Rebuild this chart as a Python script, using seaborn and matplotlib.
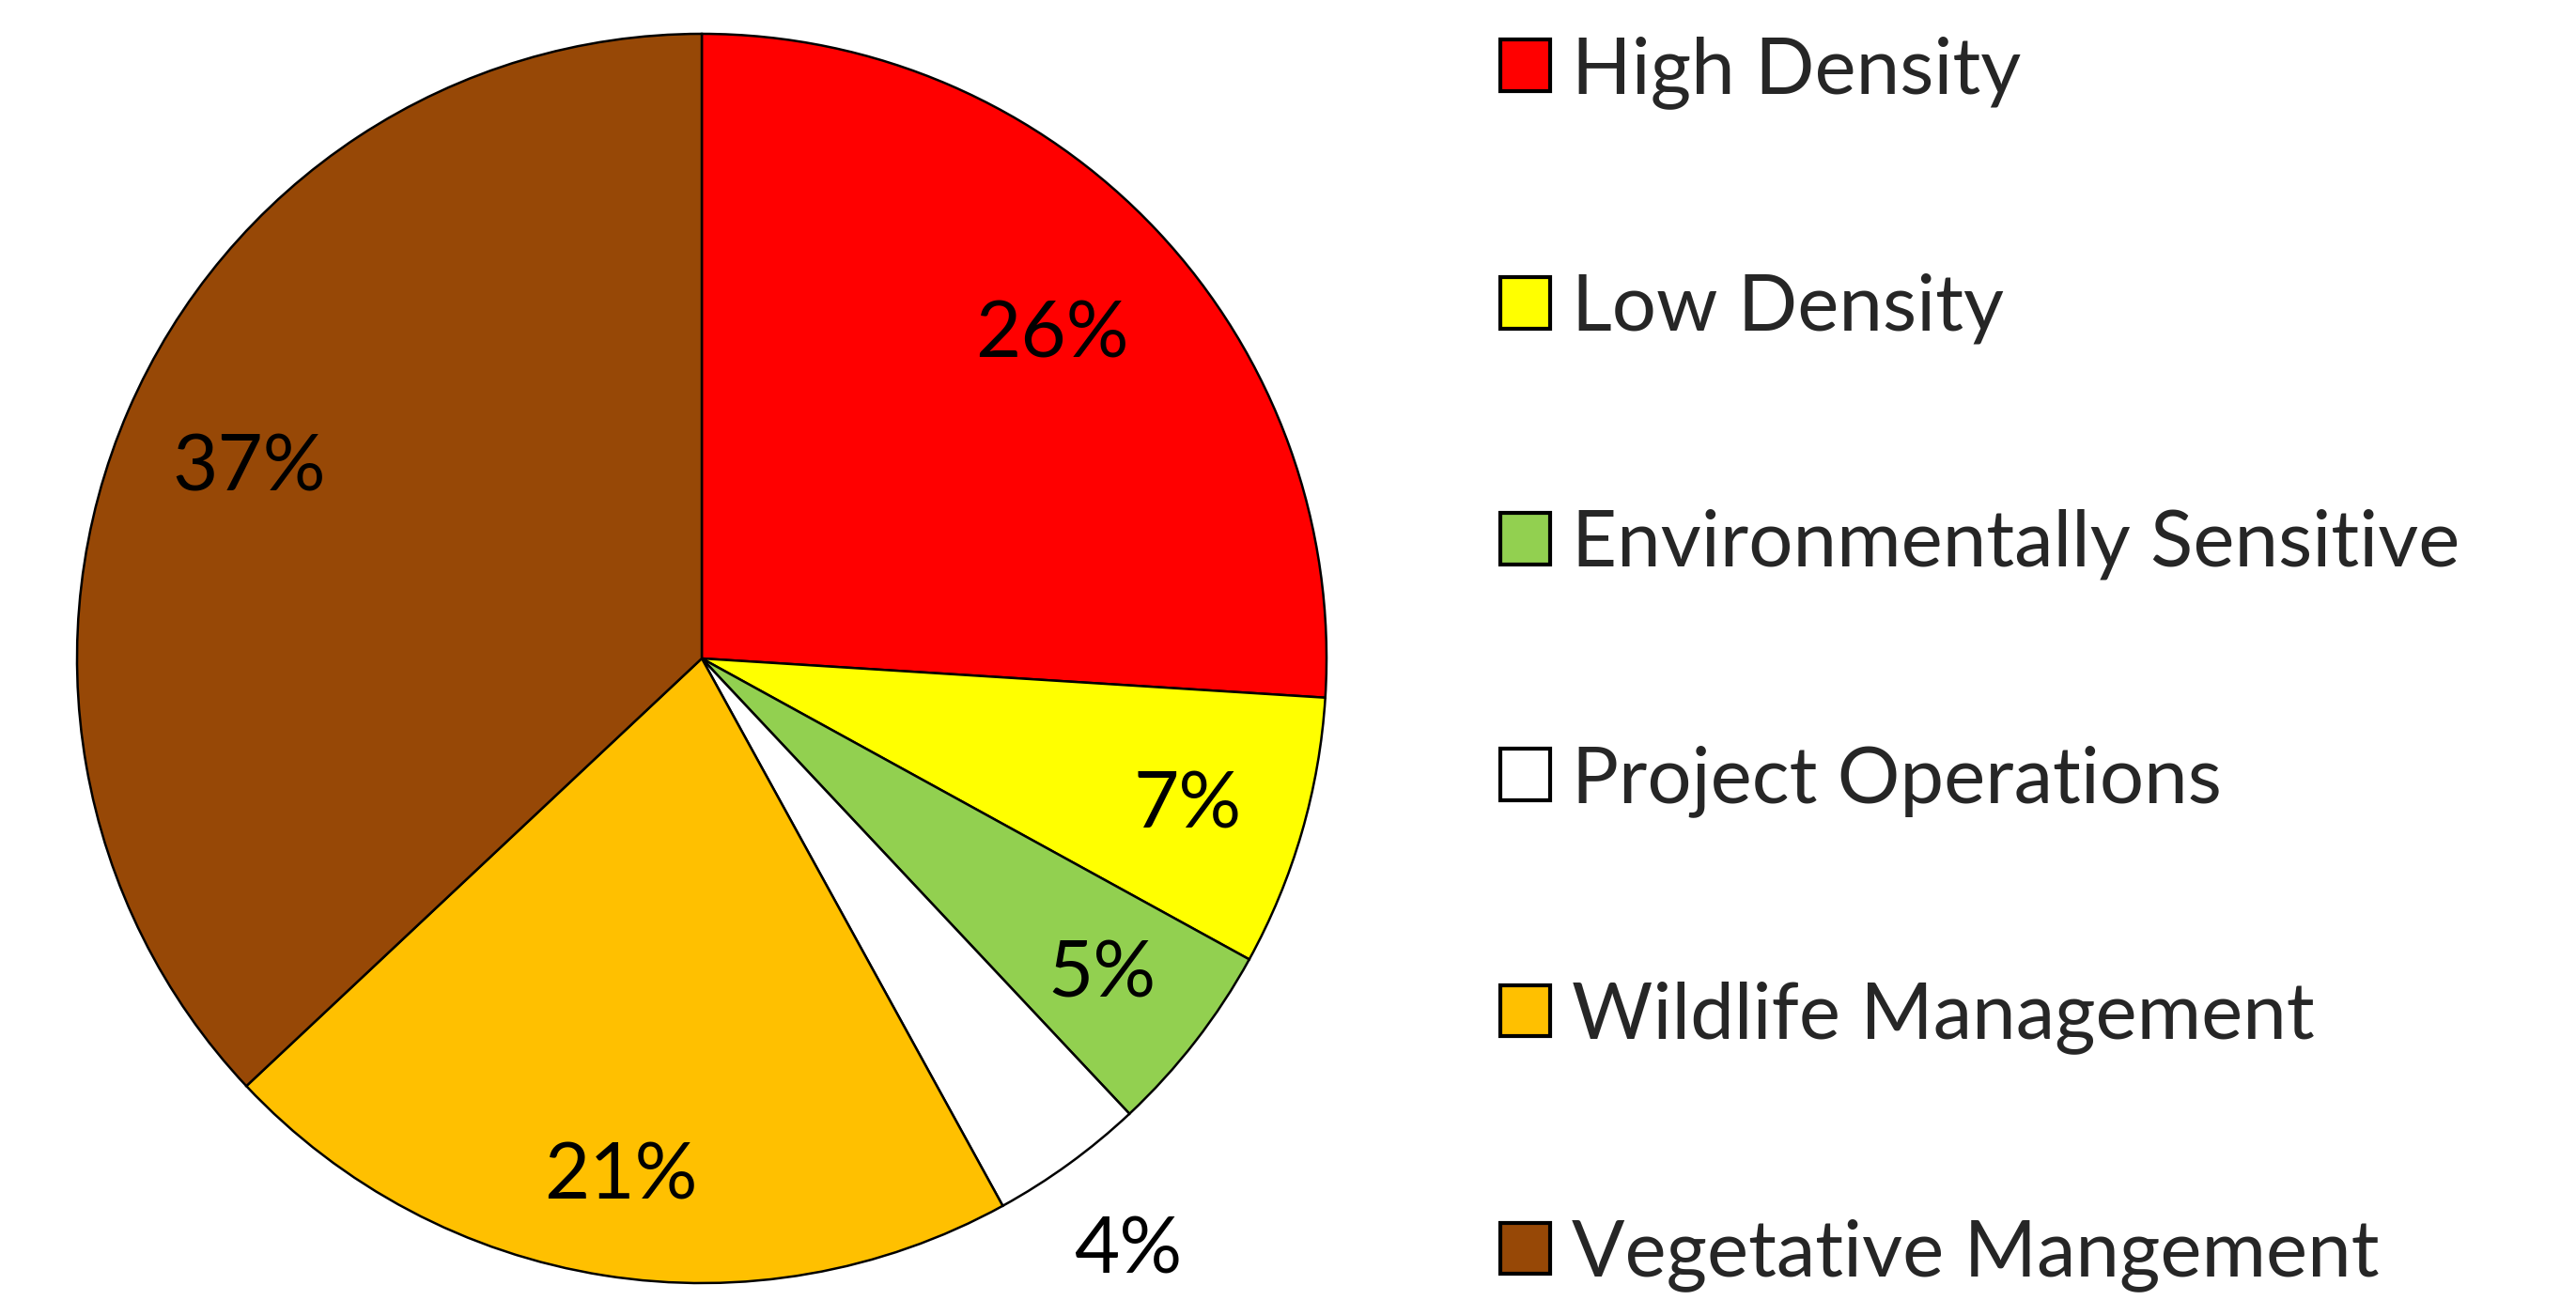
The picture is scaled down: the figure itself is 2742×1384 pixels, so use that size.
import matplotlib
matplotlib.use('Agg')
import matplotlib.pyplot as plt
import seaborn as sns
import numpy as np

# land use categories and their share of the total
categories = ['High Density', 'Low Density', 'Environmentally Sensitive',
              'Project Operations', 'Wildlife Management', 'Vegetative Mangement']
shares = [26, 7, 5, 4, 21, 37]
colors = ['#FF0000', '#FFFF00', '#92D050', '#FFFFFF', '#FFC000', '#974806']
# how far out each percentage label sits (fraction of radius)
label_dist = [0.77, 0.81, 0.81, 1.16, 0.83, 0.79]

sns.set_theme(style='white')
plt.rcParams['font.family'] = ['Lato', 'DejaVu Sans']

W, H = 2742, 1384
fig = plt.figure(figsize=(W / 100, H / 100), dpi=100)

# pie axes: centre (747, 701) px, radius 665 px
cx, cy, r = 747, 701, 665
ax = fig.add_axes([(cx - r) / W, (H - cy - r) / H, 2 * r / W, 2 * r / H])

wedges, texts, autotexts = ax.pie(
    shares, colors=colors, startangle=90, counterclock=False,
    autopct='%1.0f%%', pctdistance=0.8,
    wedgeprops=dict(edgecolor='black', linewidth=1.8),
    textprops=dict(fontsize=60, color='black'))

for d, w, t in zip(label_dist, wedges, autotexts):
    t.set_va('center_baseline')
    ang = np.deg2rad((w.theta1 + w.theta2) / 2)
    t.set_position((d * np.cos(ang), d * np.sin(ang)))

ax.set_xlim(-1, 1)
ax.set_ylim(-1, 1)
ax.set_aspect('equal')
ax.axis('off')

leg = fig.legend(wedges, categories, loc='center left',
                 bbox_to_anchor=(1597 / W, 0.4895), frameon=False,
                 borderpad=0, borderaxespad=0,
                 fontsize=60, handlelength=0.63, handleheight=0.63,
                 handletextpad=0.28, labelspacing=2.1)
for h in leg.legend_handles:
    h.set_linewidth(3)

fig.savefig('out.png', dpi=100, facecolor='white')
